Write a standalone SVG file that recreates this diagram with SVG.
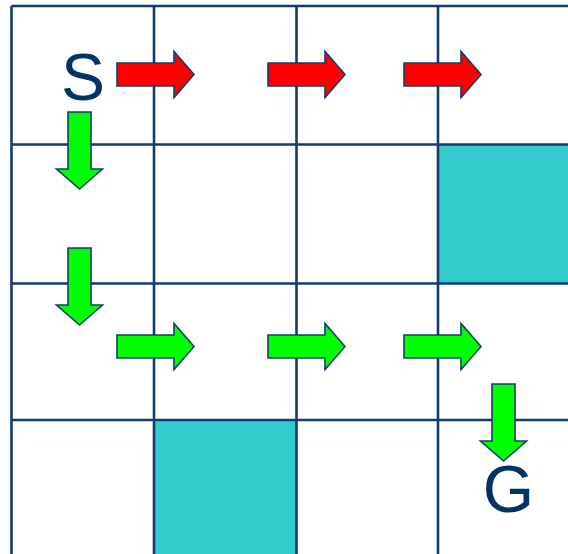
<svg xmlns="http://www.w3.org/2000/svg" xmlns:xlink="http://www.w3.org/1999/xlink" width="568" height="554" viewBox="0 0 568 554">
  <style>
    .grid { stroke: #133d6e; stroke-width: 2.6; fill: none; }
    .wall { fill: #33CCCC; }
    .red { fill: #FF0000; stroke: #133d6e; stroke-width: 1.6; stroke-linejoin: miter; }
    .green { fill: #00FF00; stroke: #133d6e; stroke-width: 1.6; stroke-linejoin: miter; }
    .lbl { font-family: "Liberation Sans", Arial, sans-serif; font-size: 66px; fill: #003366; text-anchor: middle; }
  </style>
  <defs>
    <path id="arr" d="M0,-11.5 L57,-11.5 L57,-23 L77,0 L57,23 L57,11.5 L0,11.5 Z"/>
  </defs>
  <rect width="568" height="554" fill="#ffffff"/>
  <g id="walls">
    <rect class="wall" x="438" y="144.5" width="130" height="139"/>
    <rect class="wall" x="154" y="420" width="142.5" height="134"/>
  </g>
  <g id="grid">
    <path class="grid" d="M11.5,6 V554 M154,6 V554 M296.5,6 V554 M438,6 V554 M11.5,6 H568 M11.5,144.5 H568 M11.5,283.5 H568 M11.5,420 H568"/>
  </g>
  <g id="connectors">
    <use class="red" xlink:href="#arr" transform="translate(117,74.5)"/>
    <use class="red" xlink:href="#arr" transform="translate(268,74.5)"/>
    <use class="red" xlink:href="#arr" transform="translate(404,74.5)"/>
    <use class="green" xlink:href="#arr" transform="translate(79.5,112) rotate(90)"/>
    <use class="green" xlink:href="#arr" transform="translate(79.5,248) rotate(90)"/>
    <use class="green" xlink:href="#arr" transform="translate(117,346.5)"/>
    <use class="green" xlink:href="#arr" transform="translate(268,346.5)"/>
    <use class="green" xlink:href="#arr" transform="translate(404,346.5)"/>
    <use class="green" xlink:href="#arr" transform="translate(503.5,384) rotate(90)"/>
  </g>
  <g id="start"><text class="lbl" x="83" y="100">S</text></g>
  <g id="goal"><text class="lbl" x="508.5" y="512">G</text></g>
</svg>
